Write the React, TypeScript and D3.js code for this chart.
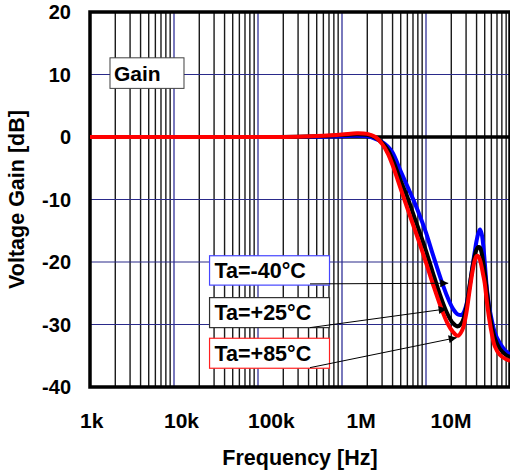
import React, { useEffect, useRef } from 'react';
import * as d3 from 'd3';

// frequency points (Hz) shared by the three curves
const freqs = [
  1e3, 1e4, 1e5, 3e5, 6e5, 1e6, 1.5e6, 2e6, 2.5e6, 3e6, 3.5e6, 4e6, 5e6, 6e6, 7e6, 8e6,
  10e6, 12e6, 15e6, 18e6, 21e6, 24e6, 27e6, 30e6, 33e6, 36e6, 38e6, 40e6, 42e6, 44e6,
  46e6, 48e6, 50e6, 53e6, 56e6, 60e6, 66e6, 75e6, 88e6, 100e6,
];

// gain in dB at each frequency
const gainM40 = [
  0, 0, 0, 0, 0.05, 0.1, 0.2, 0.1, -0.3, -0.8, -1.5, -2.5, -5.5, -7.9, -9.9, -11.8,
  -15.3, -18.7, -22.7, -25.6, -27.5, -28.4, -28.4, -27.0, -24.0, -20.5, -18.4, -16.6, -15.4, -14.8,
  -15.5, -17.3, -20.0, -24.2, -26.9, -29.0, -31.3, -32.9, -34.2, -34.8,
];
const gainP25 = [
  0, 0, 0, 0.03, 0.15, 0.3, 0.45, 0.35, -0.1, -0.9, -2.0, -3.6, -7.0, -9.6, -12.2, -14.4,
  -18.2, -21.6, -25.6, -28.3, -29.8, -30.3, -29.6, -27.4, -23.8, -20.6, -19.0, -18.0, -17.6, -17.7,
  -18.6, -20.0, -21.6, -24.6, -27.2, -29.9, -32.2, -33.8, -34.8, -35.2,
];
const gainP85 = [
  0, 0, 0, 0.05, 0.2, 0.4, 0.6, 0.5, 0.0, -1.1, -2.6, -4.5, -8.3, -11.4, -14.0, -16.2,
  -20.1, -23.4, -27.2, -29.8, -31.2, -31.8, -30.9, -28.4, -24.6, -21.3, -19.8, -19.05, -19.1, -19.7,
  -20.8, -22.1, -23.4, -26.3, -28.7, -31.1, -33.5, -34.8, -35.5, -35.8,
];

const xTickLabels = ['1k', '10k', '100k', '1M', '10M'];
const yTicks = [20, 10, 0, -10, -20, -30, -40];
const gridDb = [10, -10, -20, -30];
const decades = [1e3, 1e4, 1e5, 1e6, 1e7];

// legend boxes: label, colour, box in (Hz, dB), arrow end in (Hz, dB)
const tempLabels = ['Ta=-40°C', 'Ta=+25°C', 'Ta=+85°C'];
const tempColors = ['#4646ff', '#303030', '#ff2020'];
const boxTopDb = [-19.0, -25.7, -32.2];
const boxBottomDb = [-23.7, -30.5, -37.0];
const arrowStartDb = [-23.5, -30.5, -36.9];
const arrowEndHz = [18.4e6, 17.6e6, 23.2e6];
const arrowEndDb = [-23.4, -27.5, -32.1];

const FONT = '"Liberation Sans", Arial, sans-serif';

export default function App() {
  const svgRef = useRef<SVGSVGElement>(null);

  useEffect(() => {
    if (!svgRef.current) return;
    document.body.style.margin = '0';
    d3.select(svgRef.current).selectAll('*').remove();

    const svg = d3.select(svgRef.current);
    const left = 90, right = 510, top = 12, bottom = 387;

    const x = d3.scaleLog().domain([1e3, 1e8]).range([left, right]);
    const y = d3.scaleLinear().domain([-40, 20]).range([bottom, top]);
    const xLabel = d3.scalePoint<string>().domain(xTickLabels).range([91.7, 451]);

    svg.append('defs')
      .append('marker')
      .attr('id', 'arrow')
      .attr('viewBox', '0 0 10 10')
      .attr('refX', 10)
      .attr('refY', 5)
      .attr('markerWidth', 10)
      .attr('markerHeight', 8)
      .attr('markerUnits', 'userSpaceOnUse')
      .attr('orient', 'auto')
      .append('path')
      .attr('d', 'M0,0L10,5L0,10Z')
      .attr('fill', '#000');

    // vertical grid
    const minor: number[] = [];
    const major: number[] = [];
    decades.forEach((d) => {
      for (let m = 1; m <= 9; m++) (m === 1 ? major : minor).push(d * m);
    });
    svg.append('g')
      .selectAll('line')
      .data(minor)
      .enter()
      .append('line')
      .attr('x1', (d) => x(d))
      .attr('x2', (d) => x(d))
      .attr('y1', top)
      .attr('y2', bottom)
      .attr('stroke', '#1a1a1a')
      .attr('stroke-width', 1.4);
    svg.append('g')
      .selectAll('line')
      .data(major)
      .enter()
      .append('line')
      .attr('x1', (d) => x(d))
      .attr('x2', (d) => x(d))
      .attr('y1', top)
      .attr('y2', bottom)
      .attr('stroke', '#4040a0')
      .attr('stroke-width', 1.4);

    // horizontal grid
    svg.append('g')
      .selectAll('line')
      .data(gridDb)
      .enter()
      .append('line')
      .attr('x1', left)
      .attr('x2', right)
      .attr('y1', (d) => y(d))
      .attr('y2', (d) => y(d))
      .attr('stroke', '#2a2a8a')
      .attr('stroke-width', 1.2);

    svg.append('line')
      .attr('x1', left)
      .attr('x2', right)
      .attr('y1', y(0))
      .attr('y2', y(0))
      .attr('stroke', '#000')
      .attr('stroke-width', 3.5);

    // frame
    svg.append('rect')
      .attr('x', left)
      .attr('y', top)
      .attr('width', right - left)
      .attr('height', bottom - top)
      .attr('fill', 'none')
      .attr('stroke', '#000')
      .attr('stroke-width', 3.5);

    // curves
    const line = d3.line<number>()
      .x((_, i) => x(freqs[i]))
      .y((d) => y(d))
      .curve(d3.curveCatmullRom.alpha(0.5));

    [
      { v: gainM40, c: '#0000ff' },
      { v: gainP25, c: '#000000' },
      { v: gainP85, c: '#ff0000' },
    ].forEach((s) => {
      svg.append('path')
        .datum(s.v)
        .attr('fill', 'none')
        .attr('stroke', s.c)
        .attr('stroke-width', 4)
        .attr('stroke-linejoin', 'round')
        .attr('d', line);
    });

    // Gain box
    svg.append('rect')
      .attr('x', x(1.73e3))
      .attr('y', y(12.67))
      .attr('width', x(13.15e3) - x(1.73e3))
      .attr('height', y(7.78) - y(12.67))
      .attr('fill', '#fff')
      .attr('stroke', '#404040')
      .attr('stroke-width', 1);
    svg.append('text')
      .attr('x', x(1.73e3) + 4)
      .attr('y', (y(12.67) + y(7.78)) / 2 + 7.5)
      .attr('font-family', FONT)
      .attr('font-weight', 'bold')
      .attr('font-size', 21)
      .text('Gain');

    // temperature boxes and arrows
    tempLabels.forEach((t, i) => {
      const bx0 = x(26.5e3), bx1 = x(7.1e5);
      const by0 = y(boxTopDb[i]), by1 = y(boxBottomDb[i]);
      svg.append('rect')
        .attr('x', bx0)
        .attr('y', by0)
        .attr('width', bx1 - bx0)
        .attr('height', by1 - by0)
        .attr('fill', '#fff')
        .attr('stroke', tempColors[i])
        .attr('stroke-width', 1.2);
      svg.append('text')
        .attr('x', bx0 + 5)
        .attr('y', (by0 + by1) / 2 + 7.5)
        .attr('font-family', FONT)
        .attr('font-weight', 'bold')
        .attr('font-size', 21.5)
        .text(t);
      svg.append('line')
        .attr('x1', x(4.16e5))
        .attr('y1', y(arrowStartDb[i]))
        .attr('x2', x(arrowEndHz[i]))
        .attr('y2', y(arrowEndDb[i]))
        .attr('stroke', '#000')
        .attr('stroke-width', 1)
        .attr('marker-end', 'url(#arrow)');
    });

    // tick labels
    svg.append('g')
      .selectAll('text')
      .data(yTicks)
      .enter()
      .append('text')
      .attr('x', 71)
      .attr('y', (d) => y(d) + 7)
      .attr('text-anchor', 'end')
      .attr('font-family', FONT)
      .attr('font-weight', 'bold')
      .attr('font-size', 20)
      .text((d) => String(d));

    svg.append('g')
      .selectAll('text')
      .data(xTickLabels)
      .enter()
      .append('text')
      .attr('x', (d) => xLabel(d)!)
      .attr('y', 428)
      .attr('text-anchor', 'middle')
      .attr('font-family', FONT)
      .attr('font-weight', 'bold')
      .attr('font-size', 21)
      .text((d) => d);

    // axis titles
    svg.append('text')
      .attr('x', (left + right) / 2)
      .attr('y', 465)
      .attr('text-anchor', 'middle')
      .attr('font-family', FONT)
      .attr('font-weight', 'bold')
      .attr('font-size', 21.5)
      .text('Frequency [Hz]');

    svg.append('text')
      .attr('transform', `translate(24,${(top + bottom) / 2}) rotate(-90)`)
      .attr('text-anchor', 'middle')
      .attr('font-family', FONT)
      .attr('font-weight', 'bold')
      .attr('font-size', 21.5)
      .text('Voltage Gain [dB]');
  }, []);

  return (
    <svg ref={svgRef} width={510} height={474} style={{ display: 'block', background: '#fff' }}></svg>
  );
}
